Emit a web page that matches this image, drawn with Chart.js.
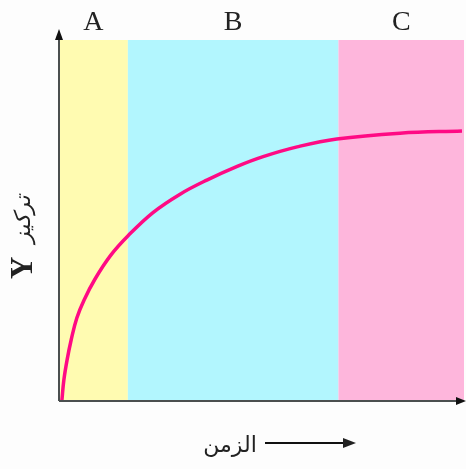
<!DOCTYPE html>
<html>
<head>
<meta charset="utf-8">
<script src="https://cdn.jsdelivr.net/npm/chart.js@4.4.1/dist/chart.umd.min.js"></script>
<style>
  html, body { margin: 0; padding: 0; background: #fdfdfd; }
  #wrap { width: 466px; height: 469px; }
</style>
</head>
<body>
<div id="wrap"><canvas id="concChart" width="466" height="469"></canvas></div>
<script>
// phase bands along the time axis
const bandLabels = ['A', 'B', 'C'];
const bandStart = [0, 17, 69];
const bandEnd = [17, 69, 100];
const bandColors = ['#fffbb1', '#b2f6fe', '#feb6dc'];

// concentration curve
const timeValues = [0.7, 1.2, 2, 3, 4.4, 6.2, 8.9, 12.8, 17, 23.2, 29.9, 36.5, 44, 50.4, 58.8, 68.6, 84.2, 99.5];
const concValues = [0, 5.8, 11.4, 16.9, 23.0, 28.0, 33.8, 40.4, 45.7, 52.2, 57.3, 61.2, 65.0, 67.7, 70.4, 72.6, 74.2, 74.8];

const yTitleLatin = 'Y';
const yTitleArabic = 'تركيز';
const xTitle = 'الزمن';

const decorations = {
    id: 'decorations',
    beforeDatasetsDraw(chart) {
        const { ctx, chartArea, scales } = chart;
        const x = scales.x;
        ctx.save();
        bandLabels.forEach((lbl, i) => {
            const x0 = x.getPixelForValue(bandStart[i]);
            const x1 = x.getPixelForValue(bandEnd[i]);
            ctx.fillStyle = bandColors[i];
            ctx.fillRect(x0, chartArea.top, x1 - x0, chartArea.bottom - chartArea.top);
        });
        ctx.restore();
    },
    afterDatasetsDraw(chart) {
        const { ctx, chartArea, scales } = chart;
        const x = scales.x;
        ctx.save();

        // axes with arrow heads
        ctx.strokeStyle = '#4a4f4f';
        ctx.fillStyle = '#111';
        ctx.lineWidth = 2;
        ctx.beginPath();
        ctx.moveTo(chartArea.left, chartArea.bottom);
        ctx.lineTo(chartArea.left, chartArea.top - 4);
        ctx.moveTo(chartArea.left, chartArea.bottom);
        ctx.lineTo(chartArea.right - 2, chartArea.bottom);
        ctx.stroke();
        ctx.beginPath();
        ctx.moveTo(chartArea.left, chartArea.top - 11);
        ctx.lineTo(chartArea.left - 4, chartArea.top);
        ctx.lineTo(chartArea.left + 4, chartArea.top);
        ctx.closePath();
        ctx.fill();
        ctx.beginPath();
        ctx.moveTo(chartArea.right + 2, chartArea.bottom);
        ctx.lineTo(chartArea.right - 8, chartArea.bottom - 4);
        ctx.lineTo(chartArea.right - 8, chartArea.bottom + 4);
        ctx.closePath();
        ctx.fill();

        // band letters
        ctx.fillStyle = '#222';
        ctx.font = '28px "Liberation Serif", "DejaVu Serif", serif';
        ctx.textAlign = 'center';
        ctx.textBaseline = 'alphabetic';
        bandLabels.forEach((lbl, i) => {
            const cx = (x.getPixelForValue(bandStart[i]) + x.getPixelForValue(bandEnd[i])) / 2;
            ctx.fillText(lbl, cx, 30);
        });

        // y title, rotated
        ctx.save();
        ctx.translate(32, 231);
        ctx.rotate(-Math.PI / 2);
        ctx.textAlign = 'left';
        ctx.font = 'bold 31px "Liberation Serif", serif';
        ctx.fillText(yTitleLatin, -48, 0);
        ctx.font = 'italic 22px "DejaVu Sans", sans-serif';
        ctx.fillText(yTitleArabic, -12, -2);
        ctx.restore();

        // x title with arrow
        ctx.font = '22px "DejaVu Sans", sans-serif';
        ctx.textAlign = 'center';
        ctx.fillText(xTitle, 230, 452);
        ctx.strokeStyle = '#111';
        ctx.lineWidth = 2;
        ctx.beginPath();
        ctx.moveTo(265, 443);
        ctx.lineTo(346, 443);
        ctx.stroke();
        ctx.beginPath();
        ctx.moveTo(356, 443);
        ctx.lineTo(343, 438);
        ctx.lineTo(343, 448);
        ctx.closePath();
        ctx.fill();
        ctx.restore();
    }
};

new Chart(document.getElementById('concChart'), {
    type: 'line',
    data: {
        datasets: [{
            label: yTitleArabic,
            data: timeValues.map((t, i) => ({ x: t, y: concValues[i] })),
            borderColor: '#ff0a84',
            borderWidth: 3.5,
            pointRadius: 0,
            tension: 0.4,
            fill: false
        }]
    },
    options: {
        responsive: false,
        animation: false,
        layout: { padding: { left: 59, right: 2, top: 40, bottom: 68 } },
        scales: {
            x: { type: 'linear', min: 0, max: 100, display: false },
            y: { min: 0, max: 100, display: false }
        },
        plugins: {
            legend: { display: false },
            tooltip: { enabled: false }
        }
    },
    plugins: [decorations]
});
</script>
</body>
</html>
